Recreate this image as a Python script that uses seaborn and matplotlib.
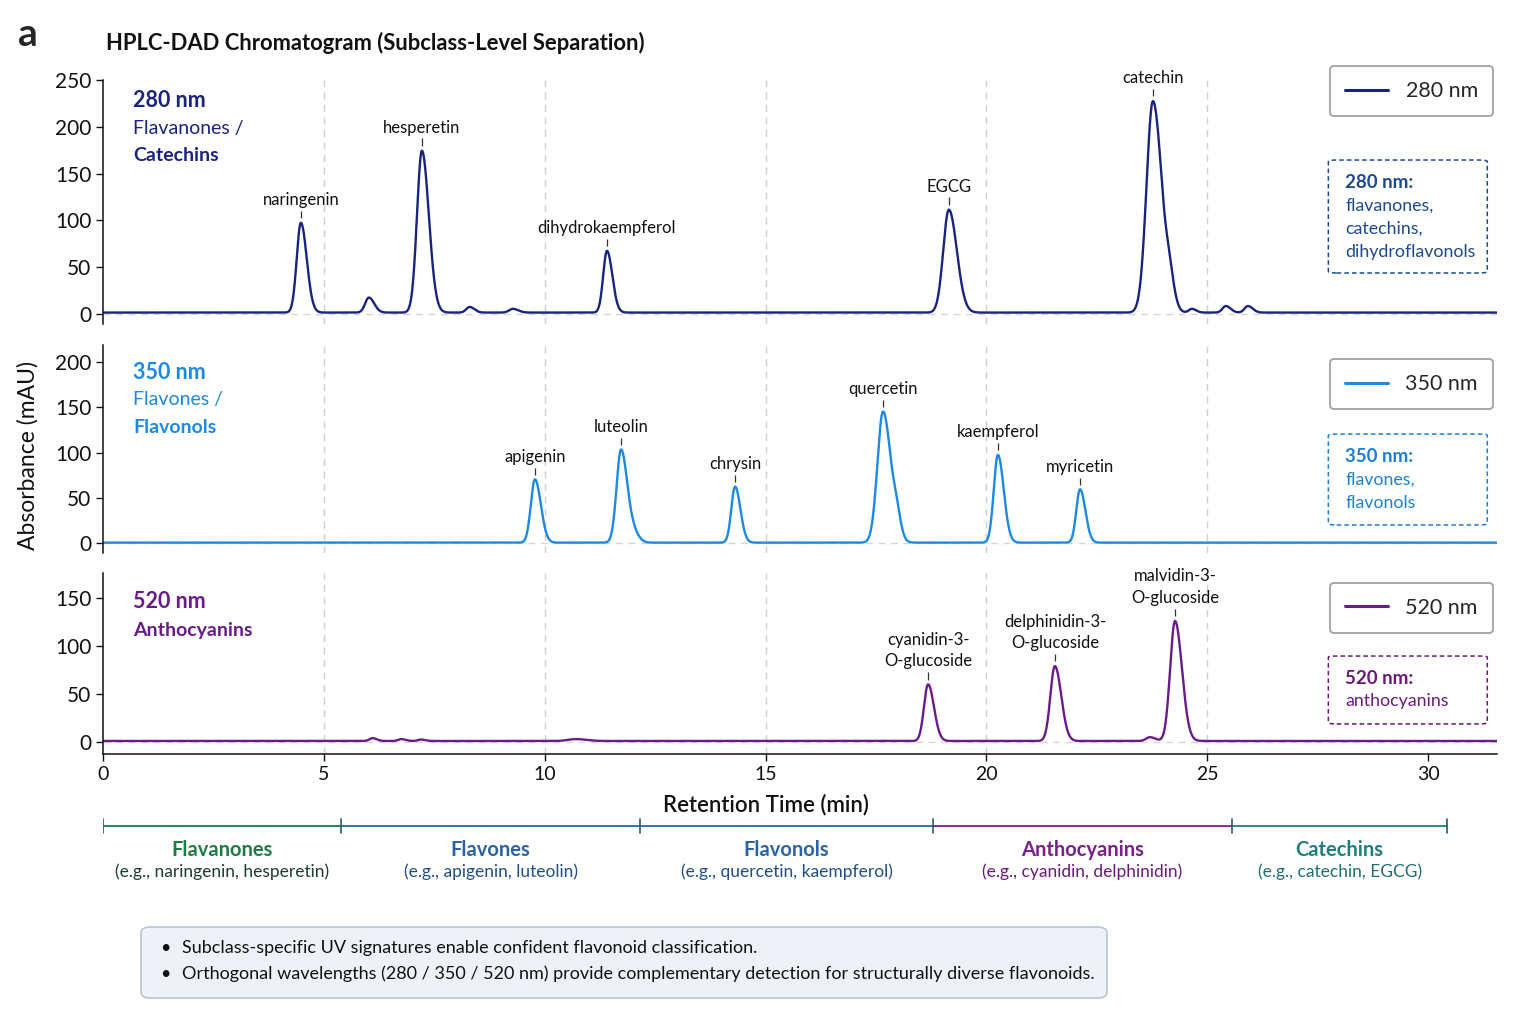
import numpy as np
import pandas as pd
import matplotlib
matplotlib.use("Agg")
import matplotlib.pyplot as plt
import seaborn as sns
from matplotlib.patches import FancyBboxPatch
from matplotlib.lines import Line2D

sns.set_theme(style="ticks")
plt.rcParams['font.family'] = ['Lato', 'DejaVu Sans']

# ---- data ----
# 280 nm channel (flavanones / catechins)
t280 = [4.48, 6.02, 7.22, 8.30, 9.28, 11.41, 19.15, 23.77, 24.15, 24.65, 25.42, 25.92]
h280 = [96, 16, 173, 6, 4, 66, 110, 226, 22, 4, 7, 7]
w280 = [0.11, 0.10, 0.13, 0.09, 0.10, 0.10, 0.15, 0.17, 0.09, 0.08, 0.09, 0.09]
base280 = 1.5
lab280 = ["naringenin", "hesperetin", "dihydrokaempferol", "EGCG", "catechin"]
labidx280 = [0, 2, 5, 6, 7]

# 350 nm channel (flavones / flavonols)
t350 = [9.78, 11.73, 12.03, 14.31, 17.66, 17.97, 20.26, 22.12]
h350 = [70, 103, 8, 62, 145, 18, 97, 59]
w350 = [0.11, 0.12, 0.10, 0.10, 0.15, 0.08, 0.11, 0.10]
base350 = 0.5
lab350 = ["apigenin", "luteolin", "chrysin", "quercetin", "kaempferol", "myricetin"]
labidx350 = [0, 1, 3, 4, 6, 7]

# 520 nm channel (anthocyanins)
t520 = [6.10, 6.75, 7.20, 10.70, 18.68, 21.55, 23.70, 24.27]
h520 = [3, 2, 1.5, 2, 59, 78, 4, 125]
w520 = [0.08, 0.08, 0.08, 0.20, 0.11, 0.12, 0.10, 0.13]
base520 = 1.0
lab520 = ["cyanidin-3-\nO-glucoside", "delphinidin-3-\nO-glucoside", "malvidin-3-\nO-glucoside"]
labidx520 = [4, 5, 7]

# subclass bracket under the time axis
seg_edges = [0, 5.39, 12.16, 18.79, 25.56, 30.43]
seg_names = ["Flavanones", "Flavones", "Flavonols", "Anthocyanins", "Catechins"]
seg_examples = ["(e.g., naringenin, hesperetin)", "(e.g., apigenin, luteolin)",
                "(e.g., quercetin, kaempferol)", "(e.g., cyanidin, delphinidin)",
                "(e.g., catechin, EGCG)"]
seg_colors = ["#1e7b45", "#2a64a6", "#2a64a6", "#7b1f8f", "#1f7f7f"]
seg_sub_colors = ["#1f3d2b", "#1f4f86", "#1f4f86", "#6a1b7a", "#1f6f73"]

notes = ["Subclass-specific UV signatures enable confident flavonoid classification.",
         "Orthogonal wavelengths (280 / 350 / 520 nm) provide complementary detection for structurally diverse flavonoids."]

xmax = 31.56
t = np.linspace(0, xmax, 4000)


def trace(centers, heights, widths, base):
    y = np.full_like(t, base)
    for c, h, w in zip(centers, heights, widths):
        s = np.where(t < c, w * 0.85, w * 1.2)  # slight tailing
        y += h * np.exp(-0.5 * ((t - c) / s) ** 2)
    return y


fig = plt.figure(figsize=(15.37, 10.23), dpi=100)
left, width = 0.067, 0.907
ax1 = fig.add_axes([left, 0.6833, width, 0.2385])
ax2 = fig.add_axes([left, 0.4594, width, 0.2033])
ax3 = fig.add_axes([left, 0.2630, width, 0.1769])

panels = [
    dict(ax=ax1, t=t280, h=h280, w=w280, base=base280, labs=lab280, idx=labidx280,
         color="#1a237e", name="280 nm", ylim=(-10.7, 250), yt=[0, 50, 100, 150, 200, 250],
         head=["280 nm", "Flavanones /", "Catechins"], heady=[0.918, 0.803, 0.689],
         note=["280 nm:", "flavanones,", "catechins,", "dihydroflavonols"], notec="#1d4a8f",
         leg_y=1.057, box=(0.672, 0.209), ax_h=244),
    dict(ax=ax2, t=t350, h=h350, w=w350, base=base350, labs=lab350, idx=labidx350,
         color="#1e88e5", name="350 nm", ylim=(-11, 219), yt=[0, 50, 100, 150, 200],
         head=["350 nm", "Flavones /", "Flavonols"], heady=[0.870, 0.736, 0.606],
         note=["350 nm:", "flavones,", "flavonols"], notec="#1e7fd6",
         leg_y=0.933, box=(0.572, 0.135), ax_h=208),
    dict(ax=ax3, t=t520, h=h520, w=w520, base=base520, labs=lab520, idx=labidx520,
         color="#6a1b8a", name="520 nm", ylim=(-12.5, 176), yt=[0, 50, 100, 150],
         head=["520 nm", "Anthocyanins"], heady=[0.840, 0.680],
         note=["520 nm:", "anthocyanins"], notec="#6a1b7a",
         leg_y=0.945, box=(0.541, 0.166), ax_h=181),
]

for p in panels:
    ax = p["ax"]
    y = trace(p["t"], p["h"], p["w"], p["base"])
    df = pd.DataFrame({"time": t, "absorbance": y})
    for xv in [5, 10, 15, 20, 25]:
        ax.axvline(xv, color="#cfcfcf", lw=1.0, ls=(0, (5, 4)), zorder=0)
    ax.axhline(0, color="#d6d6d6", lw=1.0, ls=(0, (5, 4)), zorder=0)
    sns.lineplot(data=df, x="time", y="absorbance", ax=ax, color=p["color"], lw=1.7,
                 label=p["name"])
    ax.set_xlim(0, xmax)
    ax.set_ylim(*p["ylim"])
    ax.set_yticks(p["yt"])
    ax.tick_params(axis="y", labelsize=15, length=5, width=1, colors="#111111")
    ax.set_xlabel("")
    ax.set_ylabel("")
    sns.despine(ax=ax)
    for sp in ax.spines.values():
        sp.set_linewidth(1.1)
        sp.set_color("#111111")

    # peak labels
    for name, i in zip(p["labs"], p["idx"]):
        top = p["h"][i] + p["base"]
        ax.vlines(p["t"][i], top + 5, top + 13, color="#333333", lw=0.9)
        ax.text(p["t"][i], top + 16, name, ha="center", va="bottom", fontsize=12,
                color="#111111", linespacing=1.4, clip_on=False)

    # channel header
    for k, (txt, yy) in enumerate(zip(p["head"], p["heady"])):
        ax.text(0.0215, yy, txt, transform=ax.transAxes, ha="left", va="center",
                color=p["color"], fontsize=15.5 if k == 0 else 14,
                fontweight="bold" if (k == 0 or k == len(p["head"]) - 1) else "normal")

    # legend
    handle = Line2D([0], [0], color=p["color"], lw=2.2)
    leg = ax.legend([handle], [p["name"]], loc="upper right", bbox_to_anchor=(0.997, p["leg_y"]),
                    fontsize=15.5, frameon=True, fancybox=True, handlelength=2.0,
                    borderpad=0.7, handletextpad=0.8, borderaxespad=0)
    leg.get_frame().set_edgecolor("#8a8a8a")
    leg.get_frame().set_linewidth(1.3)

    # dashed note box
    btop, bbot = p["box"]
    ax.add_patch(FancyBboxPatch((0.879, bbot), 0.114, btop - bbot,
                                boxstyle="round,pad=0,rounding_size=0.006",
                                transform=ax.transAxes, fill=False, ec=p["notec"],
                                lw=1.1, ls=(0, (3, 2)), clip_on=False))
    step = 23.3 / p["ax_h"]
    for k, line in enumerate(p["note"]):
        ax.text(0.891, btop - 22 / p["ax_h"] - k * step, line, transform=ax.transAxes,
                ha="left", va="center", fontsize=13.5 if k == 0 else 12.8,
                color=p["notec"], fontweight="bold" if k == 0 else "normal")

for ax in (ax1, ax2):
    ax.spines["bottom"].set_visible(False)
    ax.tick_params(axis="x", bottom=False, labelbottom=False)

ax3.set_xticks([0, 5, 10, 15, 20, 25, 30])
ax3.tick_params(axis="x", labelsize=14, length=5, width=1, colors="#111111")
ax3.set_xlabel("")
ax3.text(15, -0.28, "Retention Time (min)", transform=ax3.get_xaxis_transform(),
         ha="center", va="center", fontsize=16, fontweight="semibold", color="#111111")

fig.text(0.018, 0.555, "Absorbance (mAU)", rotation=90, ha="center", va="center",
         fontsize=16.5, color="#111111")
fig.text(0.012, 0.966, "a", fontsize=28, fontweight="bold", ha="left", va="center")
fig.text(0.069, 0.958, "HPLC-DAD Chromatogram (Subclass-Level Separation)", fontsize=15.8,
         fontweight="bold", ha="left", va="center", color="#111111")

# subclass bracket
axb = fig.add_axes([left, 0.130, width, 0.0733])
axb.set_xlim(0, xmax)
axb.set_ylim(0, 1)
axb.axis("off")
for k in range(len(seg_names)):
    a, b = seg_edges[k], seg_edges[k + 1]
    axb.plot([a, b], [0.853, 0.853], color=seg_colors[k], lw=1.3)
    axb.text((a + b) / 2, 0.53, seg_names[k], ha="center", va="center", fontsize=14.5,
             fontweight="bold", color=seg_colors[k])
    axb.text((a + b) / 2, 0.24, seg_examples[k], ha="center", va="center", fontsize=12.5,
             color=seg_sub_colors[k])
for e in seg_edges:
    axb.plot([e, e], [0.76, 0.95], color="#2a5a6a", lw=1.2)

# note box
fig.patches.append(FancyBboxPatch((0.0917, 0.0244), 0.6285, 0.0694,
                                  boxstyle="round,pad=0,rounding_size=0.006",
                                  transform=fig.transFigure, fc="#eef2f8", ec="#b9c6d6",
                                  lw=1.2, zorder=0))
for k, line in enumerate(notes):
    yy = 0.0733 - k * 0.0254
    fig.text(0.104, yy, "•", fontsize=13, ha="left", va="center", color="#111111")
    fig.text(0.1184, yy, line, fontsize=13, ha="left", va="center", color="#111111")

fig.savefig("out.png", dpi=100)
